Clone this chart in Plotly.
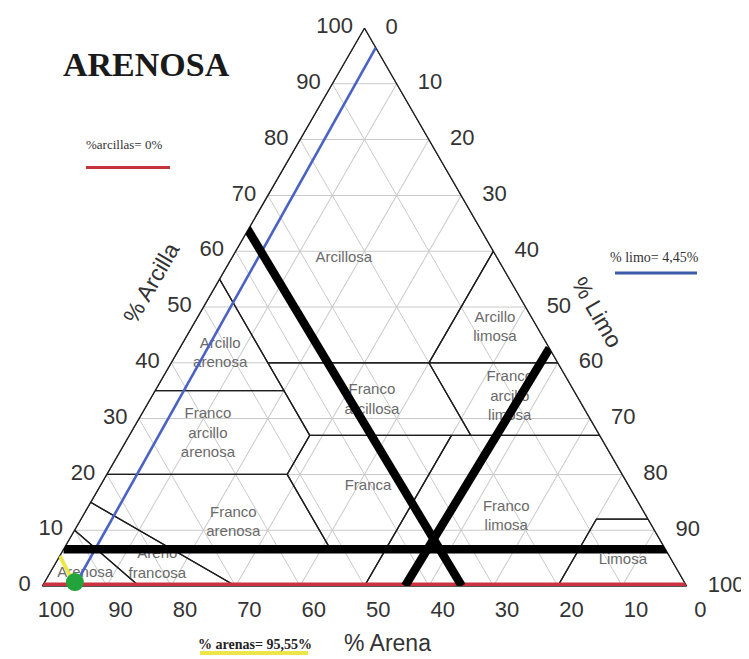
import plotly.graph_objects as go

# page body adds an 8px margin; the figure fills the rest of the 749x659 window
OFF = 8
W, H = 749 - OFF, 659 - OFF

# ---------------- DATA ----------------
# USDA texture classes (vertices as (arena, limo, arcilla) in %)
arcillosa = [(0, 0, 100), (45, 0, 55), (45, 15, 40), (20, 40, 40), (0, 40, 60)]
arcillo_limosa = [(0, 40, 60), (20, 40, 40), (0, 60, 40)]
arcillo_arenosa = [(45, 0, 55), (65, 0, 35), (45, 20, 35)]
franco_arcillosa = [(45, 15, 40), (45, 28, 27), (20, 53, 27), (20, 40, 40)]
franco_arcillo_limosa = [(20, 40, 40), (20, 53, 27), (0, 73, 27), (0, 60, 40)]
franco_arcillo_arenosa = [(65, 0, 35), (80, 0, 20), (52, 28, 20), (45, 28, 27), (45, 20, 35)]
franca = [(45, 28, 27), (52, 28, 20), (52, 41, 7), (43, 50, 7), (23, 50, 27)]
franco_limosa = [(23, 50, 27), (50, 50, 0), (20, 80, 0), (8, 80, 12), (0, 88, 12), (0, 73, 27)]
limosa = [(8, 80, 12), (20, 80, 0), (0, 100, 0), (0, 88, 12)]
franco_arenosa = [(80, 0, 20), (85, 0, 15), (70, 30, 0), (50, 50, 0), (43, 50, 7), (52, 41, 7), (52, 28, 20)]
areno_francosa = [(85, 0, 15), (90, 0, 10), (85, 15, 0), (70, 30, 0)]
arenosa = [(90, 0, 10), (100, 0, 0), (85, 15, 0)]

# class names and anchor positions
etiquetas = ["Arcillosa", "Arcillo<br>limosa", "Arcillo<br>arenosa", "Franco<br>arcillosa",
             "Franco<br>arcillo<br>limosa", "Franco<br>arcillo<br>arenosa", "Franca",
             "Franco<br>limosa", "Franco<br>arenosa", "Limosa", "Arenosa", "Areno<br>francosa"]
etiq_arena = [23.8, 6.6, 51.6, 32.2, 10.5, 60.7, 40.5, 21.8, 64.7, 7.6, 92.2, 80.2]
etiq_limo = [17.4, 47.1, 6.8, 34.5, 55.6, 12.1, 41.6, 65.8, 24.0, 87.8, 5.5, 15.9]
etiq_arcilla = [58.8, 46.3, 41.6, 33.3, 33.9, 27.2, 17.9, 12.4, 11.3, 4.6, 2.3, 3.9]

# tick values / labels of the three axes
tick_vals = [0, 10, 20, 30, 40, 50, 60, 70, 80, 90, 100]
tick_text = ["0", "10", "20", "30", "40", "50", "60", "70", "80", "90", "100"]

# red line: % arcilla = 0
roja_arena = [100.0, 0.0]
roja_limo = [0.0, 100.0]
roja_arcilla = [0.0, 0.0]
# blue line: % limo = 4,45
azul_arena = [0.0, 95.0]
azul_limo = [3.5, 5.0]
azul_arcilla = [96.5, 0.0]
# yellow line: % arena = 95,55
amarilla_arena = [94.6, 94.8]
amarilla_limo = [0.0, 3.6]
amarilla_arcilla = [5.4, 1.6]
# resulting point
punto_arena = [94.6]
punto_limo = [4.7]
punto_arcilla = [0.7]
# thick black lines
negra_h_arena = [93.4, -1.9]
negra_h_limo = [0.0, 95.3]
negra_h_arcilla = [6.6, 6.6]
negra_d1_arena = [36.2, 34.9]
negra_d1_limo = [-0.9, 65.1]
negra_d1_arcilla = [64.7, 0.0]
negra_d2_arena = [43.7, 0.0]
negra_d2_limo = [56.3, 57.4]
negra_d2_arcilla = [0.0, 42.6]

# ---------------- FIGURE ----------------
# triangle corners in window pixels
tri_left, tri_right, tri_top, tri_bottom = 42, 687, 28, 586

fig = go.Figure()


def tline(arena, limo, arcilla, color, width):
    fig.add_trace(go.Scatterternary(
        a=arcilla, b=arena, c=limo, mode="lines",
        line=dict(color=color, width=width),
        hoverinfo="skip", showlegend=False))


# class boundaries
for poly in [arcillosa, arcillo_limosa, arcillo_arenosa, franco_arcillosa,
             franco_arcillo_limosa, franco_arcillo_arenosa, franca, franco_limosa,
             limosa, franco_arenosa, areno_francosa, arenosa]:
    pts = poly + [poly[0]]
    tline([p[0] for p in pts], [p[1] for p in pts], [p[2] for p in pts], "#1e1e1e", 1.3)

# class names
fig.add_trace(go.Scatterternary(
    a=etiq_arcilla, b=etiq_arena, c=etiq_limo, mode="text", text=etiquetas,
    textposition="middle center",
    textfont=dict(family="Liberation Sans, Arial", size=15, color="#6a6a6a"),
    hoverinfo="skip", showlegend=False))

# coloured reading lines
tline(roja_arena, roja_limo, roja_arcilla, "#cc3340", 7)
tline(azul_arena, azul_limo, azul_arcilla, "#4a62c4", 2.6)
tline(amarilla_arena, amarilla_limo, amarilla_arcilla, "#ece64a", 4)

# thick black lines
for ar, li, ac in [(negra_h_arena, negra_h_limo, negra_h_arcilla),
                   (negra_d1_arena, negra_d1_limo, negra_d1_arcilla),
                   (negra_d2_arena, negra_d2_limo, negra_d2_arcilla)]:
    tline(ar, li, ac, "black", 8.5)

# green point
fig.add_trace(go.Scatterternary(
    a=punto_arcilla, b=punto_arena, c=punto_limo, mode="markers",
    marker=dict(color="#22a33c", size=18),
    cliponaxis=False, hoverinfo="skip", showlegend=False))

tick_font = dict(family="Liberation Sans, Arial", size=22, color="#333333")
NBSP = "\u00a0"


def axis_style(ticklen, pad=0):
    # leading no-break spaces nudge the labels sideways, as in the original drawing
    return dict(showticklabels=True, tickfont=tick_font, tickmode="array",
                tickvals=tick_vals, ticktext=[NBSP * pad + t for t in tick_text],
                ticks="outside" if ticklen > 0 else "", ticklen=ticklen,
                tickcolor="rgba(0,0,0,0)",
                showgrid=True, gridcolor="#cacaca", gridwidth=1,
                showline=True, linecolor="#1e1e1e", linewidth=1.3,
                layer="below traces", title=dict(text=""))


fig.update_layout(
    width=W, height=H, margin=dict(l=0, r=0, t=0, b=0),
    paper_bgcolor="white", showlegend=False,
    ternary=dict(
        sum=100, bgcolor="white",
        domain=dict(x=[(tri_left - OFF) / W, (tri_right - OFF) / W],
                    y=[1 - (tri_bottom - OFF) / H, 1 - (tri_top - OFF) / H]),
        aaxis=axis_style(8),
        baxis=axis_style(3, 4),
        caxis=axis_style(0, 3)),
)


def px(x):
    return (x - OFF) / W


def py(y):
    return 1 - (y - OFF) / H


ann_font = dict(family="Liberation Sans, Arial", size=23, color="#333333")
serif = "Liberation Serif, Times New Roman"
annotations = [
    dict(text="<b>ARENOSA</b>", x=px(146), y=py(64),
         font=dict(family=serif, size=34, color="#1a1a1a")),
    dict(text="% Arcilla", x=px(151), y=py(283), textangle=-60, font=ann_font),
    dict(text="% Limo", x=px(597), y=py(312), textangle=60, font=ann_font),
    dict(text="% Arena", x=px(388), y=py(643), font=ann_font),
    dict(text="%arcillas= 0%", x=px(124), y=py(144),
         font=dict(family=serif, size=13, color="#333333")),
    dict(text="% limo= 4,45%", x=px(654), y=py(257),
         font=dict(family=serif, size=14, color="#333333")),
    dict(text="<b>% arenas= 95,55%</b>", x=px(255), y=py(644),
         font=dict(family=serif, size=14, color="#222222")),
]
for a in annotations:
    a.update(xref="paper", yref="paper", showarrow=False, xanchor="center", yanchor="middle")
fig.update_layout(annotations=annotations)

shapes = [
    dict(x0=px(86), x1=px(170), y0=py(167.5), y1=py(167.5), line=dict(color="#c8343c", width=3)),
    dict(x0=px(615), x1=px(697), y0=py(273), y1=py(273), line=dict(color="#3c5aa6", width=3)),
    dict(x0=px(200), x1=px(308), y0=py(653), y1=py(653), line=dict(color="#ece64a", width=4)),
]
for s in shapes:
    s.update(type="line", xref="paper", yref="paper")
fig.update_layout(shapes=shapes)

fig.write_html("out.html")
